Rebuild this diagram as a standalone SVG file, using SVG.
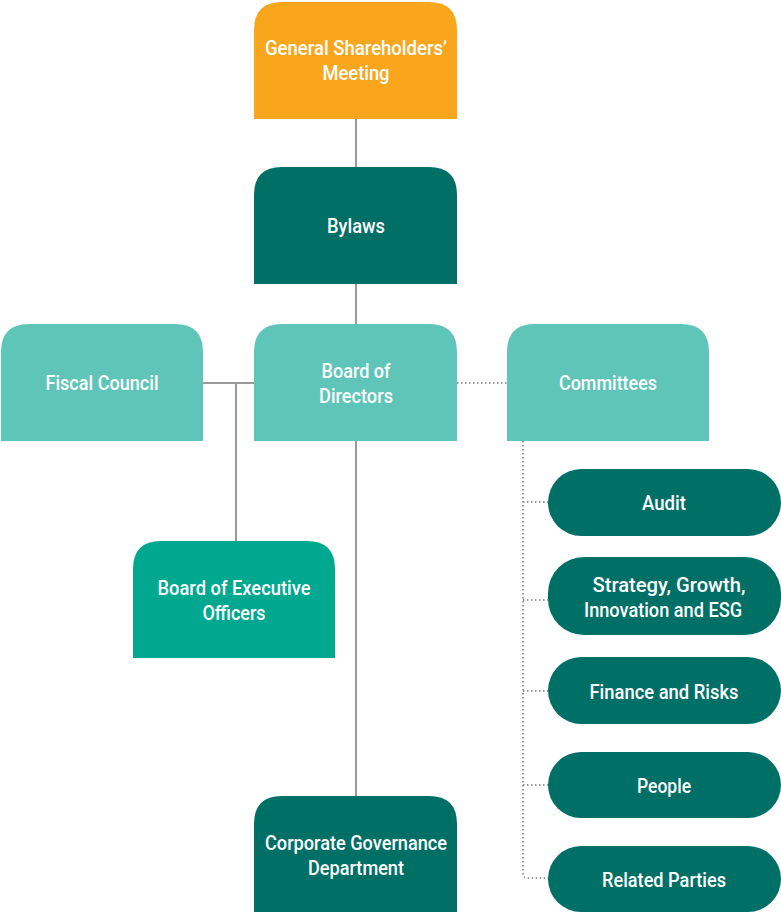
<svg xmlns="http://www.w3.org/2000/svg" width="781" height="912" viewBox="0 0 781 912">
<style>
text{font-family:Roboto,"Liberation Sans",sans-serif;font-size:20.5px;font-weight:500;fill:#fff;text-anchor:middle}
.solid{stroke:#9a9a9a;stroke-width:2;fill:none}
.dot{stroke:#9a9a9a;stroke-width:2;fill:none;stroke-dasharray:1.5 2.5}
.orange{fill:#F9A61D}
.dark{fill:#006F66}
.light{fill:#5EC5B8}
.mid{fill:#00A88F}
</style>
<rect width="781" height="912" fill="#fff"/>
<g id="connectors">
<line class="solid" x1="356" y1="119" x2="356" y2="167"/>
<line class="solid" x1="356" y1="284" x2="356" y2="324"/>
<line class="solid" x1="356" y1="441" x2="356" y2="796"/>
<line class="solid" x1="203" y1="383" x2="254" y2="383"/>
<line class="solid" x1="236" y1="383" x2="236" y2="541"/>
<line class="dot" x1="457" y1="383" x2="507" y2="383"/>
<path class="dot" d="M523 441 V874 Q523 878 527 878 H548"/>
<line class="dot" x1="523" y1="502" x2="548" y2="502"/>
<line class="dot" x1="523" y1="600" x2="548" y2="600"/>
<line class="dot" x1="523" y1="691" x2="548" y2="691"/>
<line class="dot" x1="523" y1="785" x2="548" y2="785"/>
</g>
<g id="gsm">
<path class="orange" d="M254 119 V30 Q254 2 282 2 H429 Q457 2 457 30 V119 Z"/>
<text x="356" y="55" textLength="182" lengthAdjust="spacingAndGlyphs">General Shareholders’</text>
<text x="356" y="80" textLength="67" lengthAdjust="spacingAndGlyphs">Meeting</text>
</g>
<g id="bylaws">
<path class="dark" d="M254 284 V195 Q254 167 282 167 H429 Q457 167 457 195 V284 Z"/>
<text x="356" y="233" textLength="58" lengthAdjust="spacingAndGlyphs">Bylaws</text>
</g>
<g id="board">
<path class="light" d="M254 441 V352 Q254 324 282 324 H429 Q457 324 457 352 V441 Z"/>
<text x="356" y="378" textLength="69" lengthAdjust="spacingAndGlyphs">Board of</text>
<text x="356" y="403" textLength="74" lengthAdjust="spacingAndGlyphs">Directors</text>
</g>
<g id="fiscal">
<path class="light" d="M1 441 V352 Q1 324 29 324 H175 Q203 324 203 352 V441 Z"/>
<text x="102" y="390" textLength="113" lengthAdjust="spacingAndGlyphs">Fiscal Council</text>
</g>
<g id="committees">
<path class="light" d="M507 441 V352 Q507 324 535 324 H681 Q709 324 709 352 V441 Z"/>
<text x="608" y="390" textLength="98" lengthAdjust="spacingAndGlyphs">Committees</text>
</g>
<g id="executive">
<path class="mid" d="M133 658 V569 Q133 541 161 541 H307 Q335 541 335 569 V658 Z"/>
<text x="234" y="595" textLength="153" lengthAdjust="spacingAndGlyphs">Board of Executive</text>
<text x="234" y="620" textLength="63" lengthAdjust="spacingAndGlyphs">Officers</text>
</g>
<g id="governance">
<path class="dark" d="M254 912 V824 Q254 796 282 796 H429 Q457 796 457 824 V912 Z"/>
<text x="356" y="850" textLength="182" lengthAdjust="spacingAndGlyphs">Corporate Governance</text>
<text x="356" y="875" textLength="96" lengthAdjust="spacingAndGlyphs">Department</text>
</g>
<g id="audit">
<rect class="dark" x="548" y="469" width="233" height="67" rx="33.5"/>
<text x="664" y="510" textLength="44" lengthAdjust="spacingAndGlyphs">Audit</text>
</g>
<g id="strategy">
<rect class="dark" x="548" y="557" width="233" height="78" rx="36"/>
<text x="669" y="592" textLength="153" lengthAdjust="spacingAndGlyphs">Strategy, Growth,</text>
<text x="663" y="617" textLength="158" lengthAdjust="spacingAndGlyphs">Innovation and ESG</text>
</g>
<g id="finance">
<rect class="dark" x="548" y="657" width="233" height="67" rx="33.5"/>
<text x="664" y="699" textLength="149" lengthAdjust="spacingAndGlyphs">Finance and Risks</text>
</g>
<g id="people">
<rect class="dark" x="548" y="752" width="233" height="66" rx="33"/>
<text x="664" y="793" textLength="54" lengthAdjust="spacingAndGlyphs">People</text>
</g>
<g id="related">
<rect class="dark" x="548" y="846" width="233" height="66" rx="33"/>
<text x="664" y="887" textLength="124" lengthAdjust="spacingAndGlyphs">Related Parties</text>
</g>
</svg>
